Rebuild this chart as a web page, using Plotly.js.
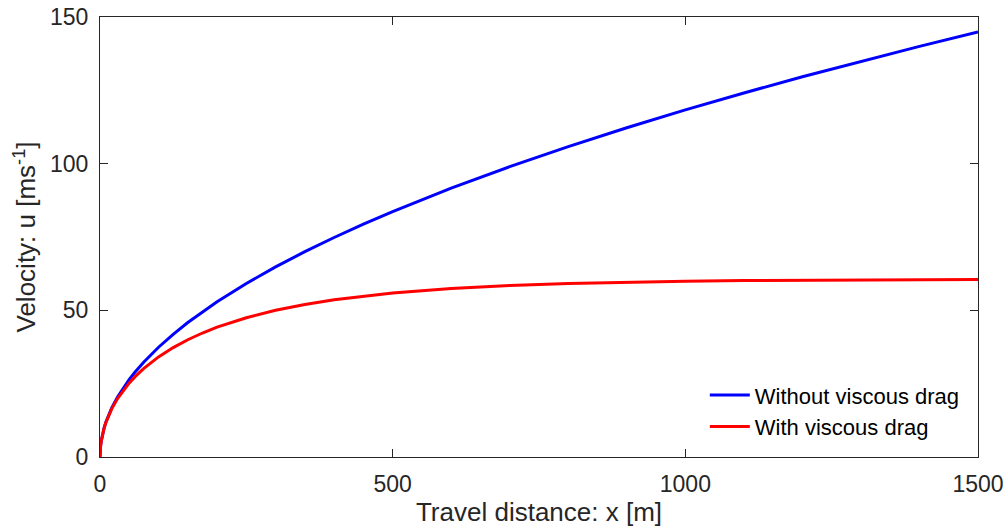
<!DOCTYPE html>
<html>
<head>
<meta charset="utf-8">
<script src="https://cdn.plot.ly/plotly-3.0.1.min.js"></script>
<style>body{margin:0;padding:0;background:#fff;} #chart{width:1008px;height:531px;}</style>
</head>
<body>
<div id="chart"></div>
<script>
const distance = [0, 0.05, 0.1, 0.2, 0.5, 1, 2, 3, 5, 7, 10, 15, 20, 30, 40, 50, 60, 75, 100, 125, 150, 175, 200, 250, 300, 350, 400, 450, 500, 600, 700, 800, 900, 1000, 1100, 1200, 1300, 1400, 1500];
const velocityNoDrag = [0, 0.84, 1.18, 1.67, 2.65, 3.74, 5.29, 6.48, 8.37, 9.90, 11.83, 14.49, 16.73, 20.49, 23.66, 26.46, 28.98, 32.40, 37.42, 41.83, 45.83, 49.50, 52.92, 59.16, 64.81, 70.00, 74.83, 79.37, 83.67, 91.65, 98.99, 105.83, 112.25, 118.32, 124.10, 129.61, 134.91, 140.00, 144.91];
const velocityDrag = [0, 0.84, 1.18, 1.67, 2.64, 3.74, 5.28, 6.46, 8.32, 9.83, 11.72, 14.28, 16.41, 19.92, 22.79, 25.24, 27.39, 30.21, 34.11, 37.30, 39.98, 42.27, 44.26, 47.49, 50.01, 52.00, 53.60, 54.88, 55.91, 57.44, 58.46, 59.14, 59.61, 59.93, 60.14, 60.29, 60.39, 60.45, 60.50];
const seriesNames = ["Without viscous drag", "With viscous drag"];
const xTicks = [0, 500, 1000, 1500];
const yTicks = [0, 50, 100, 150];

const font = "Liberation Sans, Arial, sans-serif";
const axisColor = "#262626";

const traces = [
  {x: distance, y: velocityNoDrag, mode: "lines", name: seriesNames[0], line: {color: "#0000ff", width: 3}},
  {x: distance, y: velocityDrag, mode: "lines", name: seriesNames[1], line: {color: "#ff0000", width: 3}}
];

const layout = {
  width: 1008, height: 531,
  margin: {l: 99.5, r: 29.5, t: 17, b: 74, pad: 0},
  paper_bgcolor: "#fff", plot_bgcolor: "#fff",
  font: {family: font, color: axisColor, size: 22},
  showlegend: true,
  legend: {x: 0.985, y: 0.02, xanchor: "right", yanchor: "bottom", bgcolor: "rgba(255,255,255,0)",
           borderwidth: 0, font: {size: 22, color: "#000", family: font}, tracegroupgap: 0,
           itemwidth: 40, xref: "paper", yref: "paper"},
  xaxis: {range: [0, 1500], tickvals: xTicks, ticktext: xTicks.map(String),
          showgrid: false, zeroline: false, showline: true, linecolor: axisColor, linewidth: 1,
          mirror: "ticks", ticks: "inside", ticklen: 8, tickcolor: axisColor, ticklabelstandoff: 6,
          tickfont: {size: 23, color: axisColor, family: font},
          title: {text: "Travel distance: x [m]", font: {size: 26, color: axisColor, family: font}, standoff: 4}},
  yaxis: {range: [0, 150], tickvals: yTicks, ticktext: yTicks.map(String),
          showgrid: false, zeroline: false, showline: true, linecolor: axisColor, linewidth: 1,
          mirror: "ticks", ticks: "inside", ticklen: 8, tickcolor: axisColor, ticklabelstandoff: 6,
          tickfont: {size: 23, color: axisColor, family: font},
          title: {text: "Velocity: u [ms<sup>-1</sup>]", font: {size: 26, color: axisColor, family: font}, standoff: 6}}
};

Plotly.newPlot("chart", traces, layout, {displayModeBar: false, staticPlot: true});
</script>
</body>
</html>
